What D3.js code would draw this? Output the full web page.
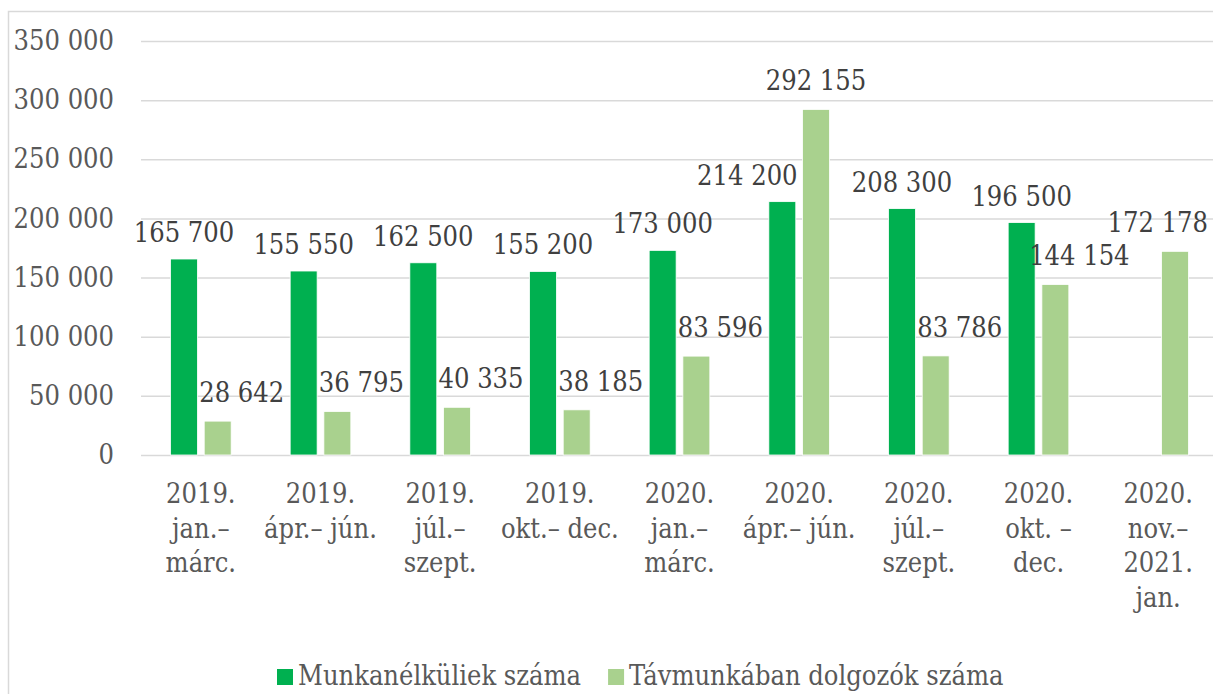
<!DOCTYPE html>
<html>
<head>
<meta charset="utf-8">
<script src="https://cdn.jsdelivr.net/npm/d3@7"></script>
<style>
  body { margin: 0; background: #fff; }
  svg { display: block; }
</style>
</head>
<body>
<svg width="1213" height="694"></svg>
<script>
// quarters (line breaks = label rows)
const categories = [
  '2019.\njan.–\nmárc.',
  '2019.\nápr.– jún.',
  '2019.\njúl.–\nszept.',
  '2019.\nokt.– dec.',
  '2020.\njan.–\nmárc.',
  '2020.\nápr.– jún.',
  '2020.\njúl.–\nszept.',
  '2020.\nokt. –\ndec.',
  '2020.\nnov.–\n2021.\njan.'
];
const seriesNames = ['Munkanélküliek száma', 'Távmunkában dolgozók száma'];
const unemployed = [165700, 155550, 162500, 155200, 173000, 214200, 208300, 196500, null];
const remote = [28642, 36795, 40335, 38185, 83596, 292155, 83786, 144154, 172178];
const yTicks = [0, 50000, 100000, 150000, 200000, 250000, 300000, 350000];

const colors = ['#00b050', '#a9d18e'];
const fontFamily = '"DejaVu Serif Condensed", "DejaVu Serif", serif';
const fontSize = 27;

const svg = d3.select('svg');
const width = +svg.attr('width');
const height = +svg.attr('height');

const margin = { top: 41, left: 141, bottom: height - 455 };
const bandWidthTotal = 1077; // plot area runs a little past the right edge of the picture
const gridWidth = width - margin.left;
const innerHeight = height - margin.top - margin.bottom;

const huFormat = d3.formatLocale({ decimal: ',', thousands: '\u00a0', grouping: [3], currency: ['', ' Ft'] }).format(',d');

// chart frame (only top and left edges are inside the picture)
svg.append('path')
  .attr('d', `M8.5,${height} V11.5 H${width}`)
  .attr('fill', 'none').attr('stroke', '#d9d9d9').attr('stroke-width', 1.5);

const g = svg.append('g')
  .attr('transform', `translate(${margin.left}, ${margin.top})`)
  .attr('font-family', fontFamily)
  .attr('font-size', fontSize);

const yScale = d3.scaleLinear()
  .domain([0, 350000])
  .range([innerHeight, 0]);

const xScale = d3.scaleBand()
  .domain(categories)
  .range([0, bandWidthTotal])
  .paddingInner(0.493)
  .paddingOuter(0.2465);

const xInner = d3.scaleBand()
  .domain(seriesNames)
  .range([0, xScale.bandwidth()])
  .paddingInner(0.2);

// y axis + gridlines
const yAxisG = g.append('g')
  .call(d3.axisLeft(yScale)
    .tickValues(yTicks)
    .tickFormat(huFormat)
    .tickSize(-gridWidth)
    .tickPadding(27));
yAxisG.attr('font-family', fontFamily).attr('font-size', fontSize);
yAxisG.select('.domain').remove();
yAxisG.selectAll('.tick line').attr('stroke', '#d9d9d9').attr('stroke-width', 1.5);
yAxisG.selectAll('.tick text').attr('fill', '#595959');

// x axis labels (one text per row)
const xLabelG = g.append('g').attr('transform', `translate(0, ${innerHeight})`);
categories.forEach(c => {
  const cx = xScale(c) + xScale.bandwidth() / 2;
  c.split('\n').forEach((line, i) => {
    xLabelG.append('text')
      .attr('fill', '#595959')
      .attr('text-anchor', 'middle')
      .attr('x', cx)
      .attr('y', 48 + i * 34.5)
      .text(line);
  });
});

// bars
const series = [unemployed, remote];
const barData = [];
series.forEach((vals, s) => {
  vals.forEach((v, i) => {
    if (v != null) barData.push({ i, cat: categories[i], name: seriesNames[s], s, value: v });
  });
});

g.selectAll('rect.bar').data(barData)
  .enter().append('rect')
  .attr('class', 'bar')
  .attr('x', d => xScale(d.cat) + xInner(d.name))
  .attr('y', d => yScale(d.value))
  .attr('width', xInner.bandwidth())
  .attr('height', d => innerHeight - yScale(d.value))
  .attr('fill', d => colors[d.s])
  .attr('stroke', '#fff')
  .attr('stroke-width', 0.8);

// value labels
const remoteMax = d3.max(remote);
const rightLimit = 1208 - margin.left;
g.selectAll('text.value-label').data(barData)
  .enter().append('text')
  .attr('class', 'value-label')
  .attr('fill', '#404040')
  .attr('text-anchor', 'middle')
  .attr('y', d => yScale(d.value) - (d.s === 0 ? 17 : 19))
  .text(d => huFormat(d.value))
  .each(function (d) {
    let cx = xScale(d.cat) + xInner(d.name) + xInner.bandwidth() / 2;
    const w = this.getComputedTextLength();
    if (d.s === 1 && d.value !== remoteMax) cx += 24;
    // keep a label off a taller neighbouring bar
    if (d.s === 0 && remote[d.i] != null && remote[d.i] > d.value) {
      const edge = xScale(d.cat) + xInner(seriesNames[1]) - 5;
      cx = Math.min(cx, edge - w / 2);
    }
    if (cx + w / 2 > rightLimit) cx = rightLimit - w / 2;
    d3.select(this).attr('x', cx);
  });

// legend
const legend = svg.append('g')
  .attr('transform', 'translate(277, 669)')
  .attr('font-family', fontFamily)
  .attr('font-size', fontSize);
let lx = 0;
seriesNames.forEach((name, i) => {
  const item = legend.append('g').attr('transform', `translate(${lx}, 0)`);
  item.append('rect')
    .attr('width', 16).attr('height', 16)
    .attr('fill', colors[i]);
  const t = item.append('text')
    .attr('x', 21).attr('y', 16)
    .attr('fill', '#595959')
    .text(name);
  lx += 21 + t.node().getComputedTextLength() + 27;
});
</script>
</body>
</html>
